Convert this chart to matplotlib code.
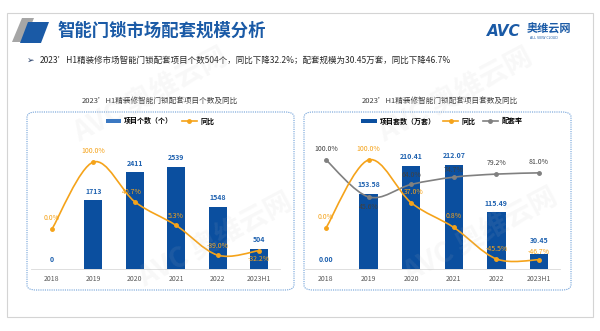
import numpy as np
import matplotlib
matplotlib.use("Agg")
import matplotlib.pyplot as plt
from matplotlib.path import Path
from matplotlib.patches import PathPatch, FancyBboxPatch, Polygon, Patch, Rectangle
from matplotlib.lines import Line2D

plt.rcParams['font.family'] = ['Noto Sans CJK SC', 'DejaVu Sans']

# data
years = ['2018', '2019', '2020', '2021', '2022', '2023H1']
proj_count = [0, 1713, 2411, 2539, 1548, 504]
count_yoy = [0.0, 100.0, 40.7, 5.3, -39.0, -32.2]
proj_sets = [0.00, 153.58, 210.41, 212.07, 115.49, 30.45]
sets_yoy = [0.0, 100.0, 37.0, 0.8, -45.5, -46.7]
match_rate = [100.0, 45.6, 64.0, 74.7, 79.2, 81.0]

BLUE = '#0b4f9f'
LBLUE = '#1f62b0'
ORANGE = '#f5a31a'
GRAY = '#808080'

W, H = 600, 331
fig = plt.figure(figsize=(6, 3.31), dpi=100)


def fx(x):
    return x / W


def fy(y):
    return 1 - y / H


def smooth_path(xs, ys):
    pts = list(zip(xs, ys))
    n = len(pts)
    verts = [pts[0]]
    codes = [Path.MOVETO]
    for i in range(n - 1):
        p0 = pts[i - 1] if i > 0 else pts[i]
        p1, p2 = pts[i], pts[i + 1]
        p3 = pts[i + 2] if i + 2 < n else pts[i + 1]
        c1 = (p1[0] + (p2[0] - p0[0]) / 6, p1[1] + (p2[1] - p0[1]) / 6)
        c2 = (p2[0] - (p3[0] - p1[0]) / 6, p2[1] - (p3[1] - p1[1]) / 6)
        verts += [c1, c2, p2]
        codes += [Path.CURVE4] * 3
    return Path(verts, codes)


# slide frame
fig.patches.append(Rectangle((fx(7), fy(317)), fx(586), 304 / H, transform=fig.transFigure,
                             fill=False, ec='#d4d4d4', lw=0.8))
# header shapes
fig.patches.append(Polygon([(fx(12), fy(42)), (fx(22), fy(18)), (fx(34), fy(18)), (fx(24), fy(42))],
                           closed=True, transform=fig.transFigure, fc='#a6a6a6', ec='none'))
fig.patches.append(Polygon([(fx(20), fy(43)), (fx(28), fy(22)), (fx(49), fy(22)), (fx(41), fy(43))],
                           closed=True, transform=fig.transFigure, fc='#1a5aa6', ec='none'))
fig.text(fx(57), fy(31), '智能门锁市场配套规模分析', fontsize=12.5, fontweight='bold',
         color='#1a5aa6', va='center', ha='left')
# logo
fig.text(fx(487), fy(31), 'AVC', fontsize=11, fontweight='bold', style='italic',
         color='#1a5aa6', va='center', ha='left', family='DejaVu Sans')
fig.text(fx(527), fy(29), '奥维云网', fontsize=8, fontweight='bold', color='#1a5aa6',
         va='center', ha='left')
fig.text(fx(530), fy(38), 'ALL VIEW CLOUD', fontsize=2.3, color='#1a5aa6',
         va='center', ha='left', family='DejaVu Sans')

# bullet line
fig.text(fx(27), fy(60), '➢', fontsize=6.5, color='#1f3864', va='center', ha='left',
         family=['DejaVu Sans'])
fig.text(fx(40), fy(60), '2023’H1精装修市场智能门锁配套项目个数504个，同比下降32.2%；配套规模为30.45万套，同比下降46.7%',
         fontsize=6.1, color='#262626', va='center', ha='left')

# watermarks
for (wx, wy) in [(150, 95), (455, 95), (215, 240), (480, 235)]:
    fig.text(fx(wx), fy(wy), 'AVC 奥维云网', fontsize=20, fontweight='bold', color='#bfbfbf',
             alpha=0.1, rotation=28, ha='center', va='center', zorder=5)

# chart titles and boxes
fig.text(fx(160), fy(101), '2023’H1精装修智能门锁配套项目个数及同比', fontsize=5.5,
         color='#404040', ha='center', va='center')
fig.text(fx(440), fy(101), '2023’H1精装修智能门锁配套项目套数及同比', fontsize=5.5,
         color='#404040', ha='center', va='center')
for (x0, x1) in [(27, 294), (304, 571)]:
    fig.patches.append(FancyBboxPatch((fx(x0), fy(290)), fx(x1 - x0), 178 / H,
                                      boxstyle='round,pad=0,rounding_size=0.015',
                                      transform=fig.transFigure, fill=False,
                                      ec='#6fa0d8', lw=0.8, ls=(0, (1, 1))))


def make_axes(x0, x1):
    ax = fig.add_axes([fx(x0), fy(269), fx(x1 - x0), 139 / H])
    ax.patch.set_alpha(0)
    for s in ['top', 'right', 'left']:
        ax.spines[s].set_visible(False)
    ax.spines['bottom'].set_color('#d9d9d9')
    ax.spines['bottom'].set_linewidth(0.6)
    ax.set_yticks([])
    ax.set_xlim(-0.5, 5.5)
    ax.set_xticks(range(len(years)))
    ax.set_xticklabels(years, fontsize=5, color='#595959')
    ax.tick_params(axis='x', length=0, pad=4)
    ax2 = ax.twinx()
    ax2.set_axis_off()
    return ax, ax2


x = np.arange(len(years))

# ---- left chart
ax, ax2 = make_axes(31.3, 279.7)
ax.bar(x, proj_count, width=0.43, color=BLUE, zorder=2)
ax.set_ylim(0, 3460)
for i, v in enumerate(proj_count):
    ax.annotate(f'{v}', (i, v), xytext=(0, 4), textcoords='offset points', ha='center',
                va='bottom', fontsize=5, color=LBLUE, fontweight='bold')
ax2.set_ylim(-59.7, 147.8)
ax2.add_patch(PathPatch(smooth_path(x, count_yoy), fill=False, ec=ORANGE, lw=1.2, zorder=3))
ax2.plot(x, count_yoy, 'o', color=ORANGE, ms=2.5, zorder=4)
offs = [(0, 5), (0, 5), (-2, 4), (0, 4), (0, 4), (0, -9)]
for i, v in enumerate(count_yoy):
    ax2.annotate(f'{v:.1f}%', (i, v), xytext=offs[i], textcoords='offset points', ha='center',
                 va='bottom', fontsize=5, color=ORANGE, zorder=6)
fig.legend(handles=[Patch(fc='#3b78c2', ec='none'), Line2D([], [], color=ORANGE, marker='o', ms=2.5, lw=1.2)],
           labels=['项目个数（个）', '同比'], loc='center', bbox_to_anchor=(fx(160), fy(121)),
           ncol=2, frameon=False, handlelength=2.2, handleheight=0.6,
           columnspacing=1.2, handletextpad=0.5, prop={'weight': 'bold', 'size': 5})

# ---- right chart
bx, bx2 = make_axes(304.7, 560.3)
bx.bar(x, proj_sets, width=0.43, color=BLUE, zorder=2)
bx.set_ylim(0, 283)
bx2.set_ylim(-60.3, 144)
bx2.add_patch(PathPatch(smooth_path(x, match_rate), fill=False, ec=GRAY, lw=1.2, zorder=3))
bx2.plot(x, match_rate, 'o', color=GRAY, ms=2.5, zorder=4)
bx2.add_patch(PathPatch(smooth_path(x, sets_yoy), fill=False, ec=ORANGE, lw=1.2, zorder=3))
bx2.plot(x, sets_yoy, 'o', color=ORANGE, ms=2.5, zorder=4)
offs = [(0, 5), (0, -10), (0, 4), (0, 2), (0, 5), (0, 5)]
for i, v in enumerate(match_rate):
    bx2.annotate(f'{v:.1f}%', (i, v), xytext=offs[i], textcoords='offset points', ha='center',
                 va='bottom', fontsize=5, color='#404040', zorder=6)
offs = [(0, 5), (0, 5), (2, 5), (0, 5), (0, 4), (0, 2.5)]
for i, v in enumerate(sets_yoy):
    bx2.annotate(f'{v:.1f}%', (i, v), xytext=offs[i], textcoords='offset points', ha='center',
                 va='bottom', fontsize=5, color=ORANGE, zorder=6)
offs = [4, 4, 4, 4, 4, 7.5]
for i, v in enumerate(proj_sets):
    bx.annotate(f'{v:.2f}', (i, v), xytext=(0, offs[i]), textcoords='offset points', ha='center',
                va='bottom', fontsize=5, color=LBLUE, fontweight='bold', zorder=7)
fig.legend(handles=[Patch(fc=BLUE, ec='none'),
                    Line2D([], [], color=ORANGE, marker='o', ms=2.5, lw=1.2),
                    Line2D([], [], color=GRAY, marker='o', ms=2.5, lw=1.2)],
           labels=['项目套数（万套）', '同比', '配套率'], loc='center', bbox_to_anchor=(fx(442), fy(121)),
           ncol=3, frameon=False, handlelength=2.2, handleheight=0.6,
           columnspacing=1.0, handletextpad=0.5, prop={'weight': 'bold', 'size': 5})

fig.savefig('out.png', dpi=100)
